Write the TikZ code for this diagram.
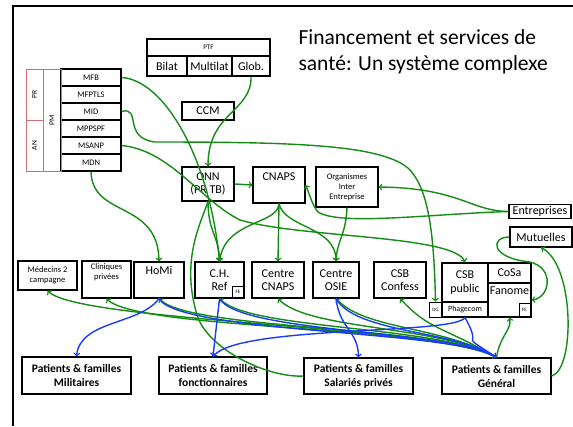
\documentclass[tikz,border=0pt]{standalone}
\usepackage{fontspec}
\setmainfont{Carlito}
\usepackage{tikz}
\usetikzlibrary{calc}

\begin{document}
\begin{tikzpicture}[x=1pt,y=-1pt,
  box/.style={draw,line width=1.1pt,inner sep=0pt,align=center,font=\fontsize{12}{13.5}\selectfont},
  sbox/.style={box,font=\fontsize{8.5}{10}\selectfont},
  tbox/.style={draw,line width=0.8pt,inner sep=0pt,font=\fontsize{5}{6}\selectfont},
  rbox/.style={draw=redbox,line width=1pt,inner sep=0pt,font=\fontsize{7.5}{9}\selectfont},
  pbox/.style={box,font=\bfseries\fontsize{11.5}{14}\selectfont},
  g/.style={draw=gline,line width=1.4pt,->},
  b/.style={draw=bline,line width=1.4pt,->}]
\definecolor{gline}{RGB}{20,140,20}
\definecolor{bline}{RGB}{25,60,250}
\definecolor{redbox}{RGB}{215,110,110}
\useasboundingbox (0,0) rectangle (573,426);
% frame
\draw[line width=2.5pt] (13,426) -- (13,6) -- (573,6);
\node[anchor=north west,align=left,font=\fontsize{21.5}{26}\selectfont] (title) at (295,26)
  {Financement et services de\\sant\'e: Un syst\`eme complexe};
% PTF
\node[box,font=\fontsize{7}{8}\selectfont,minimum width=123,minimum height=17] (ptf) at (208.5,47.5) {PTF};
\node[box,minimum width=40,minimum height=20] (bilat) at (167,66) {Bilat};
\node[box,minimum width=45,minimum height=20] (multilat) at (209.5,66) {Multilat};
\node[box,minimum width=38,minimum height=20] (glob) at (251,66) {Glob.};
\node[box,minimum width=52,minimum height=18] (ccm) at (208,111) {CCM};
% ministeres
\foreach \nm/\txt [count=\i] in {mfb/MFB,mfptls/MFPTLS,mid/MID,mppspf/MPPSPF,msanp/MSANP,mdn/MDN}
  \node[sbox,minimum width=60,minimum height=17] (\nm) at (91,{69+17*\i-8.5}) {\txt};
\node[rbox,minimum width=18,minimum height=102] (pm) at (52,120) {\rotatebox{90}{PM}};
\node[rbox,minimum width=17,minimum height=51] (pr) at (34.5,94.5) {\rotatebox{90}{PR}};
\node[rbox,minimum width=17,minimum height=51] (an) at (34.5,145.5) {\rotatebox{90}{AN}};
% financeurs
\node[box,minimum width=52,minimum height=34] (onn) at (208,184) {ONN\\(PR TB)};
\node[box,minimum width=52,minimum height=36] (cnaps) at (279,185) {CNAPS\\[3pt]};
\node[sbox,minimum width=62,minimum height=40] (org) at (347,187) {Organismes\\Inter\\Entreprise};
\node[box,minimum width=62,minimum height=14] (entr) at (540,211.5) {Entreprises};
\node[box,minimum width=62,minimum height=20] (mut) at (541,237) {Mutuelles};
% prestataires
\node[sbox,minimum width=59,minimum height=29] (med) at (47.5,275.5) {M\'edecins 2\\campagne};
\node[sbox,minimum width=49,minimum height=37] (clin) at (106.5,279.5) {Cliniques\\priv\'ees\\[6pt]};
\node[box,minimum width=50,minimum height=36] (homi) at (159,280) {HoMi\\[6pt]};
\node[box,minimum width=49,minimum height=36] (chref) at (219.5,280) {C.H.\\Ref};
\node[tbox,minimum width=12,minimum height=12] (chfe) at (238,292) {FE};
\node[box,minimum width=52,minimum height=36] (ccnaps) at (278,280) {Centre\\CNAPS};
\node[box,minimum width=46,minimum height=36] (cosie) at (336,280) {Centre\\OSIE};
\node[box,minimum width=52,minimum height=36] (csbconf) at (400,280) {CSB\\Confess};
\node[box,minimum width=46,minimum height=39] (csbpub) at (465,282.5) {CSB\\public};
\node[sbox,font=\fontsize{8}{9}\selectfont,minimum width=46,minimum height=15] (phage) at (465,309.5) {Phagecom};
\node[tbox,minimum width=13,minimum height=15] (dg) at (435.5,309.5) {DG};
\node[box,minimum width=43,minimum height=20] (cosa) at (509.5,273) {CoSa};
\node[box,minimum width=43,minimum height=34] (fanome) at (509.5,300) {Fanome\\[5pt]};
\node[tbox,minimum width=11,minimum height=13] (cosafe) at (524.5,310) {FE};
% patients
\node[pbox,minimum width=109,minimum height=37] (milit) at (76.5,375.5) {Patients \& familles\\Militaires};
\node[pbox,minimum width=108,minimum height=37] (fonct) at (213,375.5) {Patients \& familles\\fonctionnaires};
\node[pbox,minimum width=109,minimum height=36] (salar) at (358.5,376) {Patients \& familles\\Salari\'es priv\'es};
\node[pbox,minimum width=109,minimum height=36] (gener) at (496.5,376) {Patients \& familles\\G\'en\'eral};
% financement
\draw[g] (mfb.east) .. controls (165,80) and (210,160) .. (chref.north);
\draw[g] (glob.south) .. controls (252,112) and (208,112) .. (onn.north);
\draw[g] (mid.east) .. controls (142,106) and (122,138) .. (155,142)
   .. controls (300,142) and (385,145) .. (410,170)
   .. controls (430,192) and (434,240) .. (dg.north);
\draw[g] (msanp.east) .. controls (170,150) and (200,200) .. (240,220)
   .. controls (300,238) and (455,235) .. (csbpub.north);
\draw[g] (mdn.south) .. controls (92,218) and (158,200) .. (homi.north);
\draw[g] (onn.east) -- (cnaps.west);
\draw[g] (onn.south) .. controls (208,232) and (219,236) .. (chref.north);
\draw[draw=gline,line width=1.4pt] (onn.south) .. controls (200,225) and (180,262) .. (198,318)
   .. controls (212,352) and (270,378) .. (salar.west);
\draw[g] (cnaps.south) -- (ccnaps.north);
\draw[g] (cnaps.south) .. controls (278,225) and (225,220) .. (chref.north);
\draw[g] (cnaps.south) .. controls (284,228) and (336,226) .. (cosie.north);
\draw[g] (org.south) .. controls (346,235) and (337,240) .. (cosie.north);
\draw[g] (entr.west) .. controls (470,211) and (460,188) .. (org.east);
\draw[g] (entr.west) .. controls (430,214) and (340,226) .. (318,212)
   .. controls (312,205) and (310,195) .. (cnaps.east);
\draw[g] (mut.west) .. controls (490,237) and (490,258) .. (530,262)
   .. controls (555,268) and (550,298) .. (fanome.east);
\draw[g] (gener.east) .. controls (575,370) and (575,265) .. (mut.south);
\draw[g] (gener.north) .. controls (500,335) and (512,330) .. (fanome.south);
% services vers les patients
\foreach \dst in {med,clin,homi,chref,ccnaps,cosie,csbconf}
  \draw[g] (gener.north) .. controls (440,325) and ($(\dst.south)+(30,32)$) .. (\dst.south);
\draw[b] (homi.south) .. controls (140,325) and (80,320) .. (milit.north);
\draw[b] (chref.south) -- (fonct.north);
\draw[b] (cosie.south) .. controls (340,330) and (358,330) .. (salar.north);
\draw[b] (phage.south) .. controls (455,335) and (240,325) .. (fonct.north);
\foreach \src in {homi,chref,cosie,phage}
  \draw[b] (\src.south) .. controls ($(\src.south)+(20,35)$) and (455,330) .. (gener.north);
\end{tikzpicture}
\end{document}
